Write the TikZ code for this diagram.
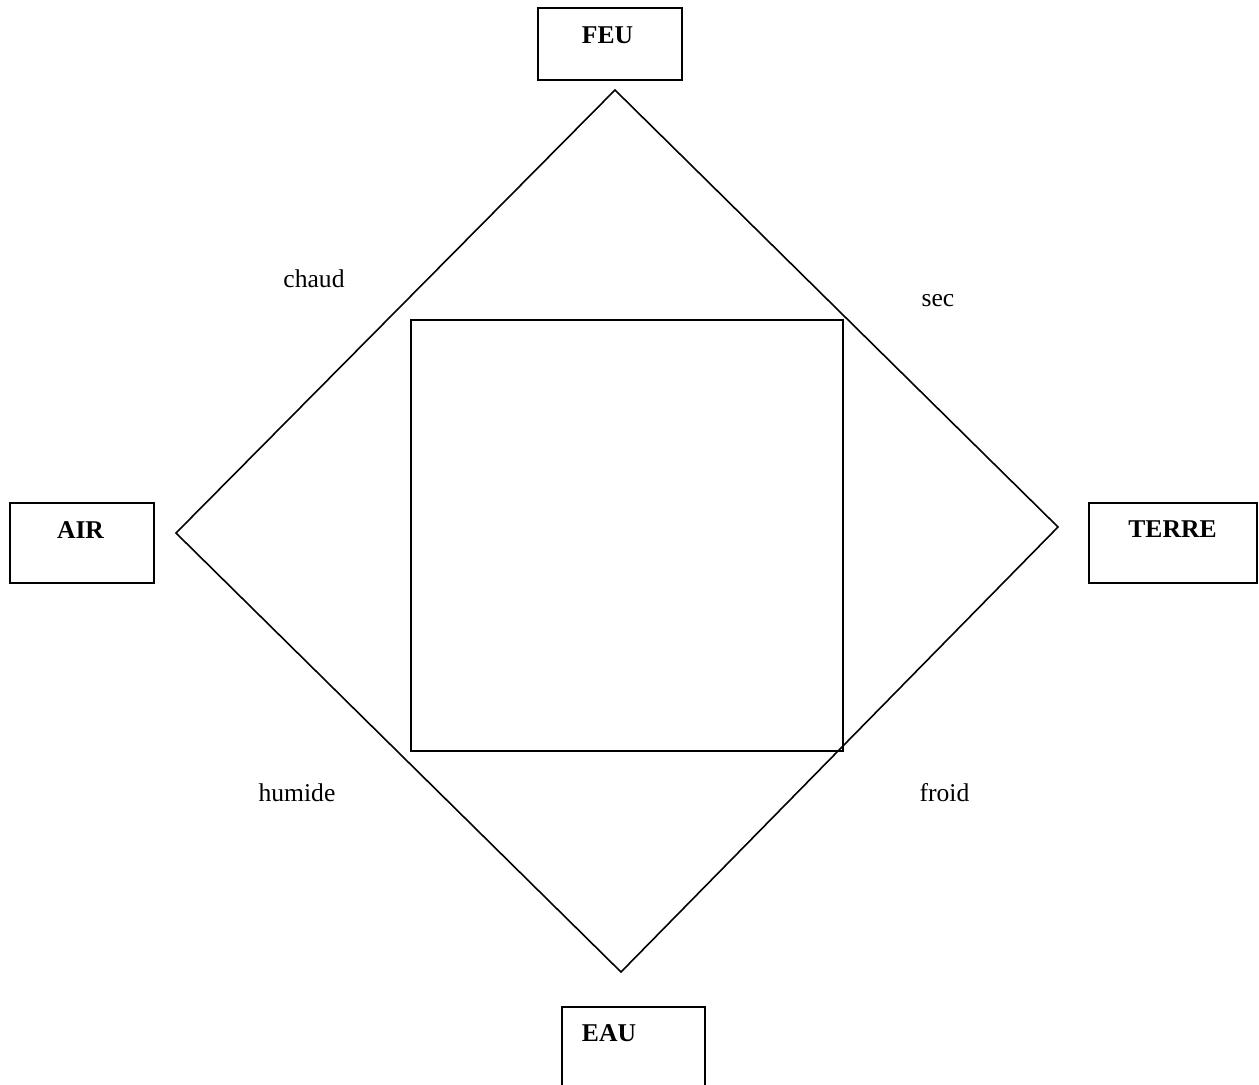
\documentclass[tikz,border=0pt]{standalone}
\usepackage{fontspec}
\setmainfont{Liberation Serif}
\begin{document}
\begin{tikzpicture}[x=0.5pt,y=-0.5pt,
  line width=0.8pt,
  box/.style={draw,line width=0.8pt,inner sep=0pt,anchor=north west},
  elem/.style={font=\fontsize{12.8}{15}\selectfont\bfseries,anchor=base,inner sep=0pt},
  qual/.style={font=\fontsize{12.8}{15}\selectfont,anchor=base,inner sep=0pt}]
\useasboundingbox (0,0) rectangle (1259,1084);
\clip (0,0) rectangle (1259,1084);
% element boxes
\node[box,minimum width=144*0.5pt,minimum height=72*0.5pt] (feubox) at (537,7) {};
\node[box,minimum width=144*0.5pt,minimum height=80*0.5pt] (airbox) at (9,502) {};
\node[box,minimum width=168*0.5pt,minimum height=80*0.5pt] (terrebox) at (1088,502) {};
\node[box,minimum width=143*0.5pt,minimum height=90*0.5pt] (eaubox) at (561,1006) {};
% element names
\node[elem] (feu) at (607.5,43) {FEU};
\node[elem] (air) at (80.5,538) {AIR};
\node[elem] (terre) at (1172.5,537) {TERRE};
\node[elem] (eau) at (609,1041) {EAU};
% diamond
\coordinate (dtop) at (615,90);
\coordinate (dright) at (1058,527);
\coordinate (dbottom) at (621,972);
\coordinate (dleft) at (176,533);
\draw (dtop) -- (dright) -- (dbottom) -- (dleft) -- cycle;
% inner square
\node[box,minimum width=432*0.5pt,minimum height=431*0.5pt] (square) at (410,319) {};
% qualities
\node[qual] (chaud) at (314,287) {chaud};
\node[qual] (sec) at (938,306) {sec};
\node[qual] (humide) at (297,801) {humide};
\node[qual] (froid) at (944.5,801) {froid};
\end{tikzpicture}
\end{document}
